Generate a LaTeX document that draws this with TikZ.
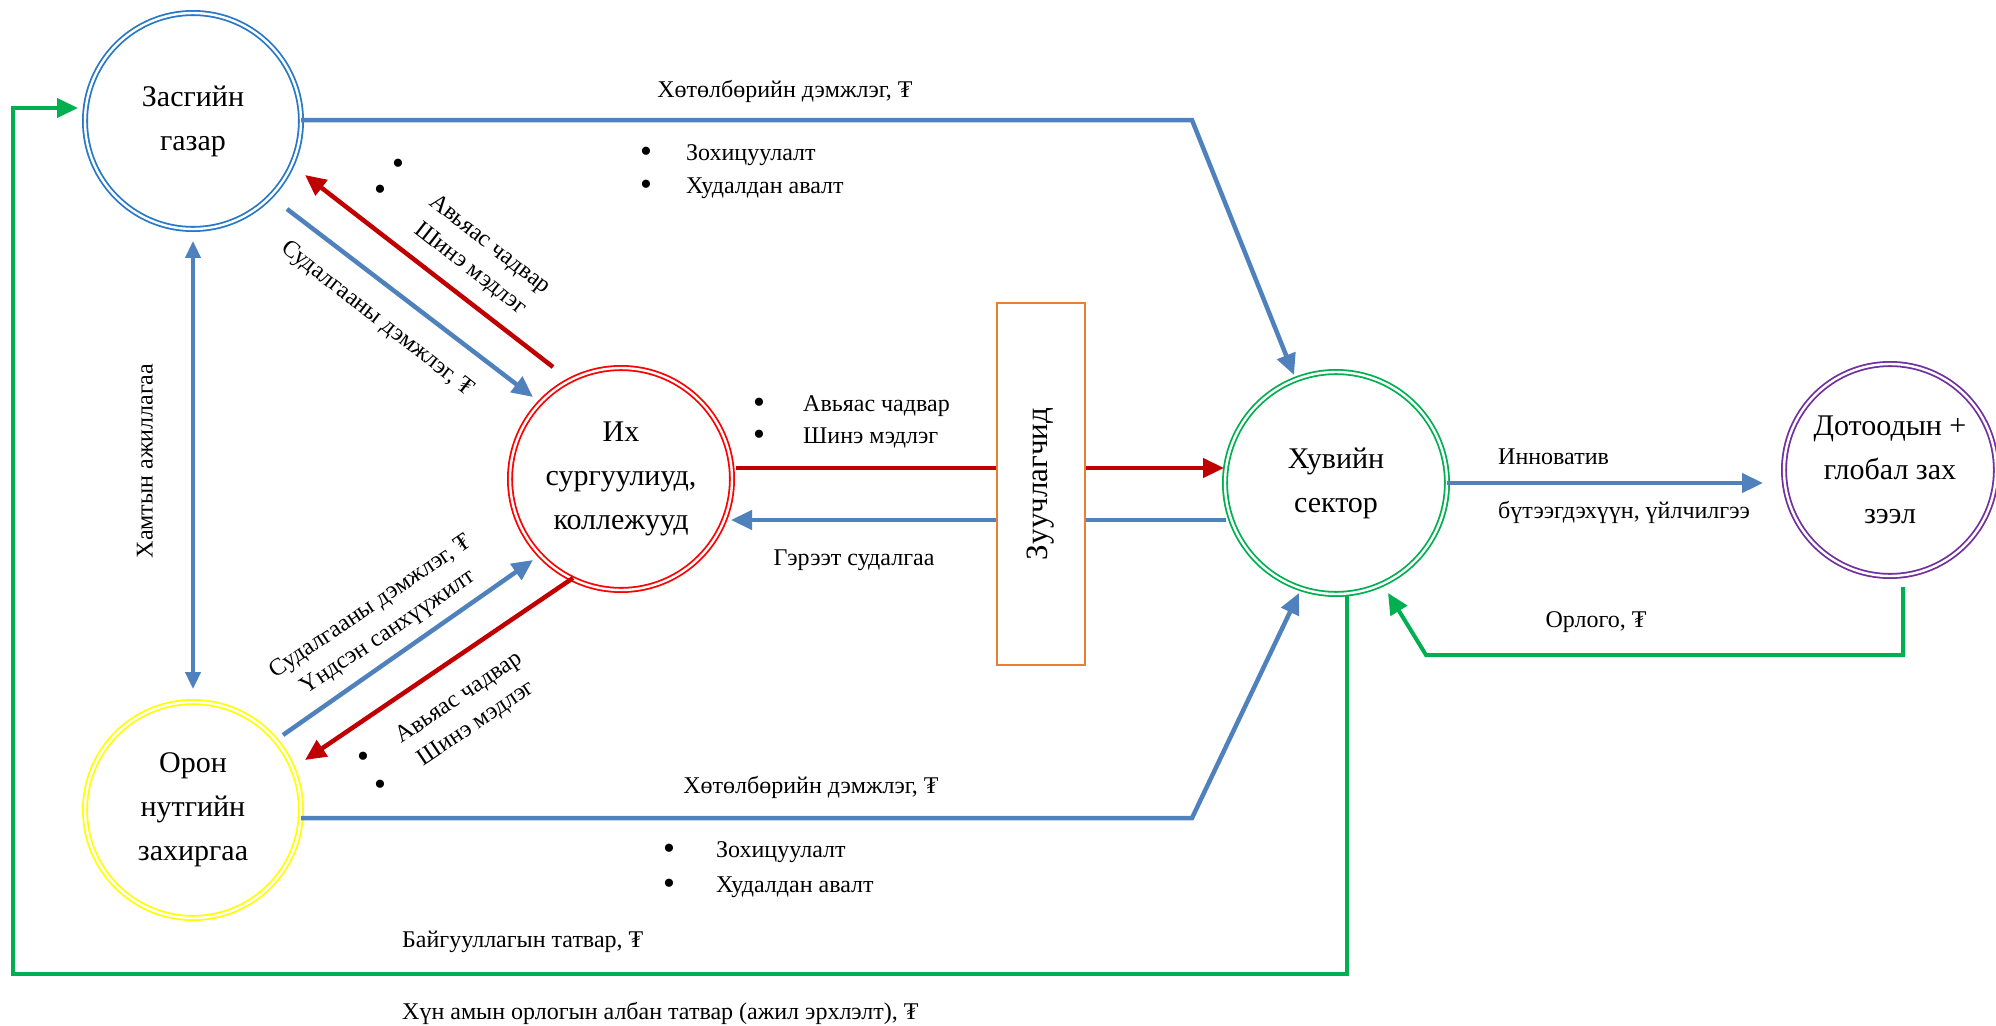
\documentclass[tikz,border=0pt]{standalone}
\usepackage{fontspec}
\setmainfont{Liberation Serif}
\usetikzlibrary{arrows.meta,calc}
\definecolor{cblue}{RGB}{79,129,189}
\definecolor{cred}{RGB}{192,0,0}
\definecolor{cgreen}{RGB}{0,176,80}
\definecolor{govc}{RGB}{40,120,200}
\definecolor{locc}{RGB}{255,255,0}
\definecolor{unic}{RGB}{255,0,0}
\definecolor{privc}{RGB}{0,176,80}
\definecolor{mktc}{RGB}{112,48,160}
\definecolor{boxc}{RGB}{237,125,49}
\begin{document}
\begin{tikzpicture}[x=1pt,y=-1pt,
  actor/.style={circle, draw=#1, line width=1.8pt, double=white, double distance=2.4pt,
    minimum size=216pt, inner sep=0pt, align=center, font=\fontsize{30}{44}\selectfont},
  lbl/.style={font=\fontsize{24}{31}\selectfont, inner sep=0pt, align=center},
  bul/.style={font=\fontsize{34}{34}\selectfont, inner sep=0pt},
  tip/.style={-{Triangle[length=21pt,width=19pt]}},
  flowb/.style={draw=cblue, line width=4.5pt, tip},
  flowr/.style={draw=cred, line width=4.5pt, tip},
  flowg/.style={draw=cgreen, line width=4pt, tip},
  bothb/.style={draw=cblue, line width=4pt, {Triangle[length=17pt,width=15pt]}-{Triangle[length=17pt,width=15pt]}}
]
\path[use as bounding box] (0,0) rectangle (1996,1025);

% actors
\node[actor=govc] (gov) at (193,121) {Засгийн\\газар};
\node[actor=locc] (loc) at (193,810) {Орон\\нутгийн\\захиргаа};
\node[actor=unic, minimum size=222pt] (uni) at (621,479) {Их\\сургуулиуд,\\коллежууд};
\node[actor=privc, minimum size=222pt] (priv) at (1336,483) {Хувийн\\сектор};
\node[actor=mktc, minimum size=212pt] (mkt) at (1890,470) {Дотоодын +\\глобал зах\\зээл};

% corner coordinates
\coordinate (c1) at (1192,120);
\coordinate (c2) at (1192,818);
\coordinate (g1) at (1903,655);
\coordinate (g2) at (1426,655);
\coordinate (t1) at (1347,974);
\coordinate (t2) at (13,974);
\coordinate (t3) at (13,108);

% government / local -> private
\draw[flowb] ([shift={(108,-1)}]gov.center) -- (c1) -- ([shift={(-42,-108)}]priv.center);
\draw[flowb] ([shift={(108,8)}]loc.center) -- (c2) -- ([shift={(-37,110)}]priv.center);

% cooperation
\draw[bothb, shorten <=11pt, shorten >=12pt] (gov.south) -- (loc.north);

% government <-> university
\draw[flowr] ([shift={(-68,-112)}]uni.center) -- ([shift={(112,54)}]gov.center);
\draw[flowb] ([shift={(94,88)}]gov.center) -- ([shift={(-88,-82)}]uni.center);

% local <-> university
\draw[flowb] ([shift={(90,-75)}]loc.center) -- ([shift={(-88,81)}]uni.center);
\draw[flowr] ([shift={(-48,99)}]uni.center) -- ([shift={(112,-50)}]loc.center);

% university <-> private
\draw[flowr] ([shift={(115,-11)}]uni.center) -- ([shift={(-112,-15)}]priv.center);
\draw[flowb] ([shift={(-110,37)}]priv.center) -- ([shift={(110,41)}]uni.center);

% intermediaries box
\node[draw=boxc, line width=1.5pt, fill=white, rotate=90, minimum width=362pt,
  minimum height=88pt, inner sep=0pt, font=\fontsize{31}{36}\selectfont] (box) at (1041,484) {Зуучлагчид};

% private <-> market
\draw[flowb] ([shift={(111,0)}]priv.center) -- ([shift={(-127,13)}]mkt.center);
\draw[flowg] ([shift={(13,117)}]mkt.center) -- (g1) -- (g2) -- ([shift={(52,110)}]priv.center);

% taxes
\draw[flowg] ([shift={(11,112)}]priv.center) -- (t1) -- (t2) -- (t3) -- ([shift={(-115,-13)}]gov.center);

% labels
\node[lbl] (l1) at (785,91) {Хөтөлбөрийн дэмжлэг, ₮};
\node[bul] (b1) at (646,155) {•};
\node[lbl, anchor=west] (tx1) at (686,155) {Зохицуулалт};
\node[bul] (b2) at (646,188) {•};
\node[lbl, anchor=west] (tx2) at (686,188) {Худалдан авалт};

\node[lbl] (l2) at (811,787) {Хөтөлбөрийн дэмжлэг, ₮};
\node[bul] (b3) at (669,852) {•};
\node[lbl, anchor=west] (tx3) at (716,852) {Зохицуулалт};
\node[bul] (b4) at (669,887) {•};
\node[lbl, anchor=west] (tx4) at (716,887) {Худалдан авалт};

\node[bul] (b5) at (759,406) {•};
\node[lbl, anchor=west] (tx5) at (803,406) {Авьяас чадвар};
\node[bul] (b6) at (759,438) {•};
\node[lbl, anchor=west] (tx6) at (803,438) {Шинэ мэдлэг};
\node[lbl] (l3) at (854,560) {Гэрээт судалгаа};

\node[lbl, anchor=west] (l4) at (1498,457) {Инноватив};
\node[lbl, anchor=west] (l5) at (1498,512) {бүтээгдэхүүн, үйлчилгээ};
\node[lbl] (l6) at (1596,622) {Орлого, ₮};

\node[lbl, anchor=west] (l7) at (402,942) {Байгууллагын татвар, ₮};
\node[lbl, anchor=west] (l8) at (402,1013) {Хүн амын орлогын албан татвар (ажил эрхлэлт), ₮};

\node[lbl, rotate=90] (l9) at (145,461) {Хамтын ажиллагаа};
\node[lbl, rotate=-38] (l10) at (480,257) {Авьяас чадвар\\Шинэ мэдлэг};
\node[lbl, rotate=-38] (l11) at (377,319) {Судалгааны дэмжлэг, ₮};
\node[lbl, rotate=34] (l12) at (380,620) {Судалгааны дэмжлэг, ₮\\Үндсэн санхүүжилт};
\node[lbl, rotate=34] (l13) at (468,711) {Авьяас чадвар\\Шинэ мэдлэг};

\node[bul] (b7) at (398,167) {•};
\node[bul] (b8) at (380,193) {•};
\node[bul] (b9) at (363,760) {•};
\node[bul] (b10) at (380,788) {•};
\end{tikzpicture}
\end{document}
